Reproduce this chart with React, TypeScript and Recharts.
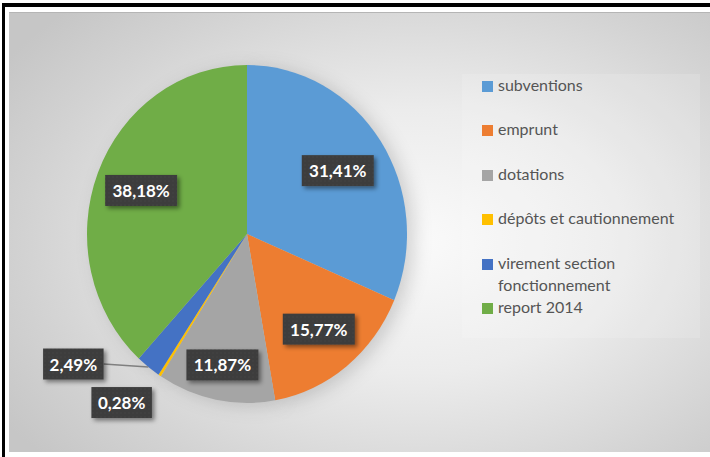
import React from 'react';
import { PieChart, Pie, Cell, Sector, Legend } from 'recharts';

// Répartition des recettes d'investissement (en %)
const categories = [
  'subventions',
  'emprunt',
  'dotations',
  'dépôts et cautionnement',
  'virement section fonctionnement',
  'report 2014',
];
const shares = [31.41, 15.77, 11.87, 0.28, 2.49, 38.18];
const colors = ['#5b9bd5', '#ed7d31', '#a5a5a5', '#ffc000', '#4472c4', '#70ad47'];

const data = categories.map((name, i) => ({ name, value: shares[i] }));

const RAD = Math.PI / 180;
const SY = 1.056; // the original pie is slightly taller than wide
const FONT = 'Lato, "Open Sans", sans-serif';

const fmt = (v: number) => v.toFixed(2).replace('.', ',') + '%';

const stretch = (cy: number, child: React.ReactNode) => (
  <g transform={`translate(0 ${cy}) scale(1 ${SY}) translate(0 ${-cy})`}>{child}</g>
);

const renderSector = (props: any) => stretch(props.cy, <Sector {...props} />);

const renderShadow = (props: any) => (
  <g transform="translate(7 3)" filter="url(#pieBlur)">
    {stretch(props.cy, <Sector {...props} fill="#000" fillOpacity={0.16} stroke="none" />)}
  </g>
);

// how far into the slice each inside label sits
const insideRadius: Record<number, number> = { 0: 0.68, 1: 0.72, 2: 0.79, 5: 0.71 };

const renderLabel = (props: any) => {
  const { cx, cy, midAngle, outerRadius, index } = props;
  const cos = Math.cos(-midAngle * RAD);
  const sin = Math.sin(-midAngle * RAD);
  const text = fmt(shares[index]);
  const w = text.length * 11.5 + 3;
  const h = 31;
  let bx: number;
  let by: number;
  let line: React.ReactNode = null;
  if (index === 4) {
    const ex = cx + outerRadius * cos;
    const ey = cy + outerRadius * sin * SY;
    bx = ex - 75;
    by = ey - 3;
    line = <path d={`M${ex},${ey}L${bx + w / 2},${by}`} stroke="#7f7f7f" strokeWidth={1.3} fill="none" />;
  } else if (index === 3) {
    const ex = cx + outerRadius * cos;
    const ey = cy + outerRadius * sin * SY;
    bx = ex - 38;
    by = ey + 27;
  } else {
    const f = insideRadius[index] ?? 0.72;
    bx = cx + outerRadius * f * cos;
    by = cy + outerRadius * f * sin * SY;
  }
  return (
    <g key={`lbl-${index}`}>
      {line}
      <rect x={bx - w / 2} y={by - h / 2} width={w} height={h} fill="url(#lblDots)" filter="url(#lblShadow)" />
      <text
        x={bx}
        y={by}
        textAnchor="middle"
        dominantBaseline="central"
        fill="#fff"
        fontFamily={FONT}
        fontWeight={700}
        fontSize={17}
      >
        {text}
      </text>
    </g>
  );
};

const renderLegend = () => (
  <div style={{ width: 238, height: 264, background: 'rgba(255,255,255,0.14)', fontFamily: FONT }}>
    {categories.map((c, i) => (
      <div key={c} style={{ position: 'relative', height: 44.4 }}>
        <div style={{ position: 'absolute', left: 20, top: 7, width: 11, height: 11, background: colors[i] }} />
        <div
          style={{
            position: 'absolute',
            left: 36,
            top: 0,
            width: 200,
            fontSize: 16,
            lineHeight: '22px',
            color: '#555',
            whiteSpace: 'nowrap',
          }}
        >
          {i === 4 ? (
            <>
              virement section
              <br />
              fonctionnement
            </>
          ) : (
            c
          )}
        </div>
      </div>
    ))}
  </div>
);

export default function App() {
  return (
    <div style={{ position: 'relative', width: 710, height: 457, background: '#fff', overflow: 'hidden' }}>
      <style>{'body{margin:0}'}</style>
      <svg width={0} height={0} style={{ position: 'absolute' }}>
        <defs>
          <pattern id="lblDots" width="4" height="4" patternUnits="userSpaceOnUse">
            <rect width="4" height="4" fill="#3c3c3c" />
            <circle cx="1" cy="1" r="0.8" fill="#474747" />
          </pattern>
          <filter id="lblShadow" x="-20%" y="-30%" width="150%" height="170%">
            <feDropShadow dx="2.5" dy="2.5" stdDeviation="2" floodColor="#000" floodOpacity="0.45" />
          </filter>
          <filter id="pieBlur" x="-50%" y="-50%" width="200%" height="200%">
            <feGaussianBlur stdDeviation="9" />
          </filter>
        </defs>
      </svg>
      <div style={{ position: 'absolute', left: 2, top: 3, right: 0, height: 4, background: '#000' }} />
      <div style={{ position: 'absolute', left: 2, top: 3, width: 3, bottom: 0, background: '#000' }} />
      <div
        style={{
          position: 'absolute',
          left: 9,
          top: 12,
          right: 0,
          bottom: 5,
          borderTop: '1px solid #b5b5b5',
          background: 'radial-gradient(ellipse 70% 75% at 58% 52%, #fafafa 0%, #ececec 40%, #d2d2d2 80%, #c6c6c6 100%)',
        }}
      />
      <div style={{ position: 'absolute', left: 0, top: 0 }}>
        <PieChart width={710} height={457} margin={{ top: 0, right: 0, bottom: 0, left: 0 }}>
          <Pie
            data={data}
            dataKey="value"
            cx={247}
            cy={234}
            outerRadius={160}
            startAngle={90}
            endAngle={-270}
            stroke="none"
            shape={renderShadow}
            label={false}
            labelLine={false}
            legendType="none"
            isAnimationActive={false}
          />
          <Pie
            data={data}
            dataKey="value"
            cx={247}
            cy={234}
            outerRadius={160}
            startAngle={90}
            endAngle={-270}
            stroke="none"
            shape={renderSector}
            label={renderLabel}
            labelLine={false}
            isAnimationActive={false}
          >
            {data.map((d, i) => (
              <Cell key={d.name} fill={colors[i]} />
            ))}
          </Pie>
          <Legend
            layout="vertical"
            align="right"
            verticalAlign="top"
            content={renderLegend}
            wrapperStyle={{ left: 462, top: 74, width: 238 }}
          />
        </PieChart>
      </div>
    </div>
  );
}
